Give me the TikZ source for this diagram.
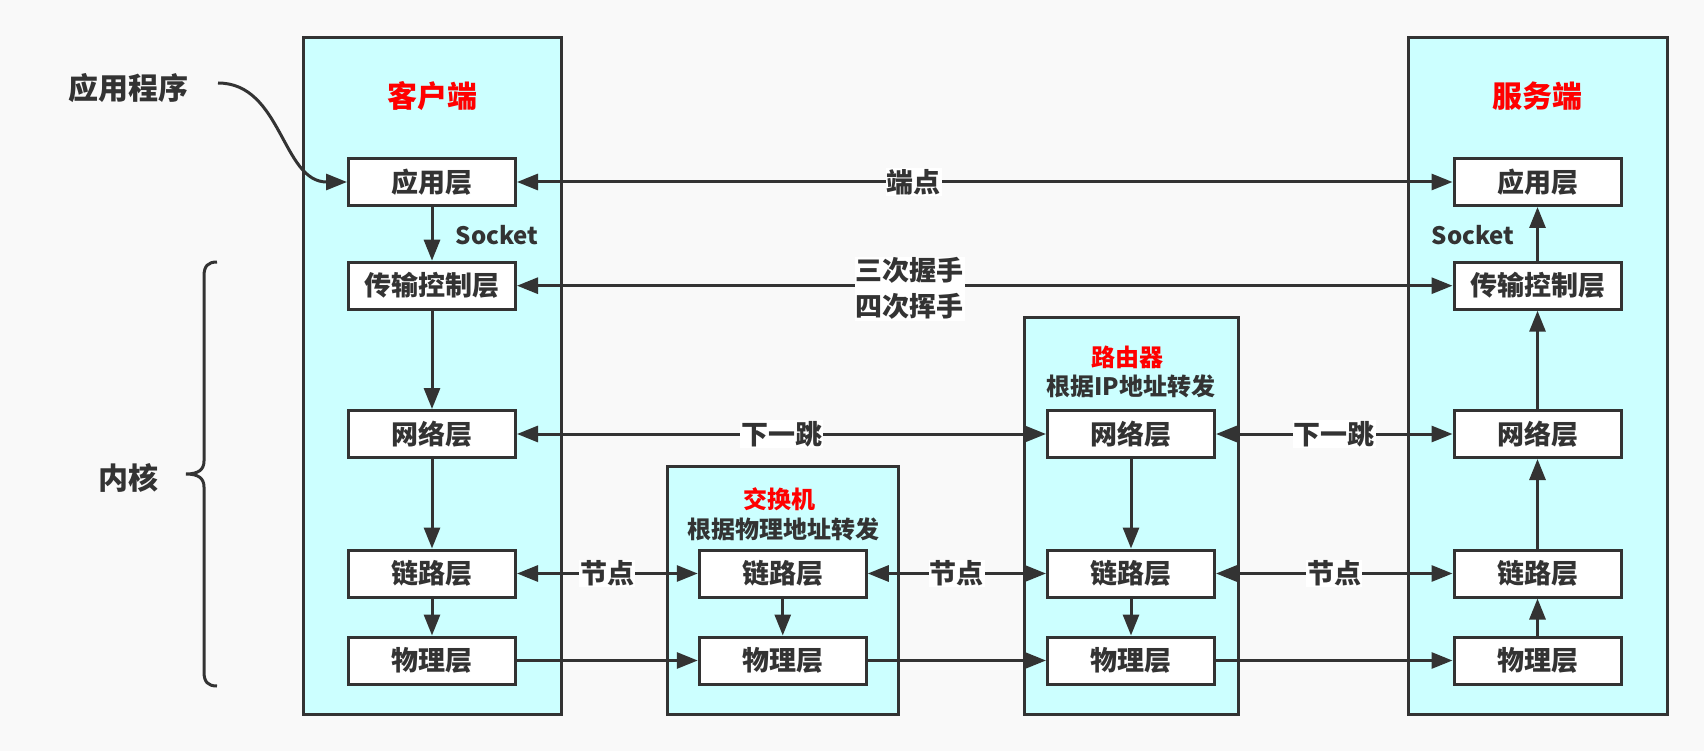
\documentclass[tikz,border=0pt]{standalone}
\usepackage{fontspec}
\setmainfont{Noto Sans CJK SC}
\usetikzlibrary{arrows.meta}
\definecolor{bg}{HTML}{F9F9F9}
\definecolor{ink}{HTML}{333333}
\definecolor{cyanfill}{HTML}{CCFFFF}
\definecolor{titlered}{HTML}{FF0000}
\begin{document}
\begin{tikzpicture}[x=1pt,y=-1pt,
  font=\bfseries,
  container/.style={draw=ink, line width=3pt, fill=cyanfill, inner sep=0pt},
  layer/.style={draw=ink, line width=3pt, fill=white, minimum width=167pt, minimum height=47pt, inner sep=0pt, font=\fontsize{27}{30}\selectfont\bfseries, text=ink},
  tip/.tip={Triangle[length=21pt,width=16pt]},
  conn/.style={draw=ink, line width=3pt, -tip},
  biconn/.style={draw=ink, line width=3pt, tip-tip},
  lbl/.style={fill=white, inner sep=1pt, font=\fontsize{27}{36}\selectfont\bfseries, text=ink},
  bigtitle/.style={font=\fontsize{30}{34}\selectfont\bfseries, text=titlered},
  smalltitle/.style={font=\fontsize{24}{28}\selectfont\bfseries, text=titlered},
  subtitle/.style={font=\fontsize{24}{28}\selectfont\bfseries, text=ink},
  sidetext/.style={font=\fontsize{30}{34}\selectfont\bfseries, text=ink},
  socket/.style={font=\fontsize{24}{28}\selectfont\bfseries, text=ink}
]
\fill[bg] (0,0) rectangle (1704,751);
\useasboundingbox (0,0) rectangle (1704,751);

% containers
\node[container, minimum width=258pt, minimum height=676pt] (client) at (432,376) {};
\node[container, minimum width=259pt, minimum height=676pt] (server) at (1537.5,376) {};
\node[container, minimum width=231pt, minimum height=248pt] (switch) at (782.5,590) {};
\node[container, minimum width=214pt, minimum height=397pt] (router) at (1131,515.5) {};

% titles
\node[bigtitle] (ctitle) at (432,96) {客户端};
\node[bigtitle] (stitle) at (1537.5,96) {服务端};
\node[smalltitle] (swtitle) at (779,499) {交换机};
\node[subtitle] (swsub) at (783,529) {根据物理地址转发};
\node[smalltitle] (rttitle) at (1127,357) {路由器};
\node[subtitle] (rtsub) at (1131,386) {根据IP地址转发};

% layers client
\node[layer] (capp) at (432,182) {应用层};
\node[layer] (ctrans) at (432,285.7) {传输控制层};
\node[layer] (cnet) at (432,434) {网络层};
\node[layer] (clink) at (432,573.5) {链路层};
\node[layer] (cphys) at (432,660.5) {物理层};
% layers server
\node[layer] (sapp) at (1537.5,182) {应用层};
\node[layer] (strans) at (1537.5,285.7) {传输控制层};
\node[layer] (snet) at (1537.5,434) {网络层};
\node[layer] (slink) at (1537.5,573.5) {链路层};
\node[layer] (sphys) at (1537.5,660.5) {物理层};
% switch
\node[layer] (wlink) at (782.75,573.5) {链路层};
\node[layer] (wphys) at (782.75,660.5) {物理层};
% router
\node[layer] (rnet) at (1131,434) {网络层};
\node[layer] (rlink) at (1131,573.5) {链路层};
\node[layer] (rphys) at (1131,660.5) {物理层};

% vertical arrows
\draw[conn] (capp) -- (ctrans);
\draw[conn] (ctrans) -- (cnet);
\draw[conn] (cnet) -- (clink);
\draw[conn] (clink) -- (cphys);
\draw[conn] (sphys) -- (slink);
\draw[conn] (slink) -- (snet);
\draw[conn] (snet) -- (strans);
\draw[conn] (strans) -- (sapp);
\draw[conn] (wlink) -- (wphys);
\draw[conn] (rnet) -- (rlink);
\draw[conn] (rlink) -- (rphys);

\node[socket] (csock) at (497,235) {Socket};
\node[socket] (ssock) at (1473,235) {Socket};

% horizontal connectors
\draw[biconn] (capp) -- (sapp) node[lbl, pos=0.424] {端点};
\draw[biconn] (ctrans) -- (strans) node[lbl, pos=0.42, align=center, yshift=-3pt] {三次握手\\四次挥手};
\draw[biconn] (cnet) -- (rnet) node[lbl, midway] {下一跳};
\draw[biconn] (rnet) -- (snet) node[lbl, midway] {下一跳};
\draw[biconn] (clink) -- (wlink) node[lbl, midway] {节点};
\draw[biconn] (wlink) -- (rlink) node[lbl, midway] {节点};
\draw[biconn] (rlink) -- (slink) node[lbl, midway] {节点};
\draw[conn] (cphys) -- (wphys);
\draw[conn] (wphys) -- (rphys);
\draw[conn] (rphys) -- (sphys);

% side labels
\node[sidetext] (apptext) at (128,88) {应用程序};
\coordinate (appstart) at (218,83);
\draw[conn] (appstart) .. controls (282,83) and (282,182) .. (capp.west);

\node[sidetext] (kernel) at (128,478) {内核};
\draw[ink, line width=3pt] (217,262) .. controls (208,262) and (204,266) .. (204,276) -- (204,461) .. controls (204,470) and (198,474) .. (186,474) .. controls (198,474) and (204,478) .. (204,487) -- (204,672) .. controls (204,682) and (208,686) .. (217,686);
\end{tikzpicture}
\end{document}
